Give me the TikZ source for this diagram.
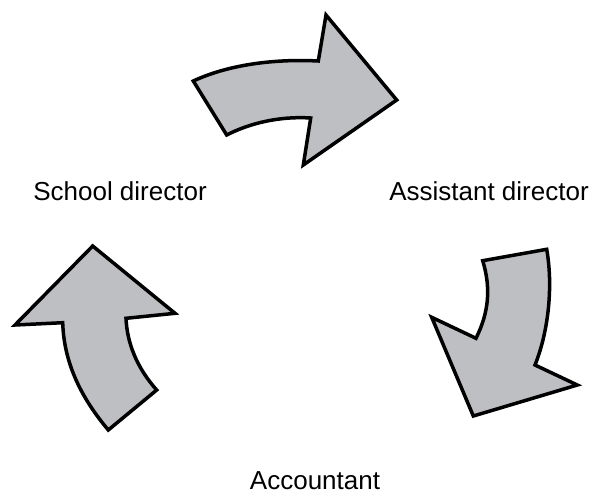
\documentclass[tikz,border=0pt]{standalone}
\usepackage{fontspec}
\setmainfont{Liberation Sans}
\definecolor{arrowfill}{RGB}{190,191,195}
\begin{document}
\begin{tikzpicture}[x=1pt,y=-1pt,
  bigarrow/.style={draw=black,fill=arrowfill,line width=3.5pt,line join=miter},
  lbl/.style={font=\fontsize{26}{30}\selectfont,inner sep=0pt}]
\useasboundingbox (0,0) rectangle (593,495);
% top arrow
\draw[bigarrow] (226.7,135) .. controls (250,123) and (280,116) .. (310.7,118)
  -- (303.3,165) -- (396.7,100) -- (326,15) -- (318.3,61)
  .. controls (280,59) and (232,63) .. (193.3,81) -- cycle;
% right arrow
\draw[bigarrow] (482.7,260.7) -- (546.7,249.3)
  .. controls (553,285) and (549,330) .. (535,365) -- (577.3,385) -- (473.3,416)
  -- (431.7,317.3) -- (476,338.3) .. controls (489,312) and (491,288) .. cycle;
% left arrow
\draw[bigarrow] (92.7,246) -- (175,313.3) -- (126,318.3)
  .. controls (127,343) and (137,368) .. (156.7,390) -- (108.3,430)
  .. controls (83,400) and (64,365) .. (62.7,322.7) -- (15,325) -- cycle;
\node[lbl] (school) at (120,191) {School director};
\node[lbl] (assist) at (489,191) {Assistant director};
\node[lbl] (acct) at (315,481) {Accountant};
\end{tikzpicture}
\end{document}
